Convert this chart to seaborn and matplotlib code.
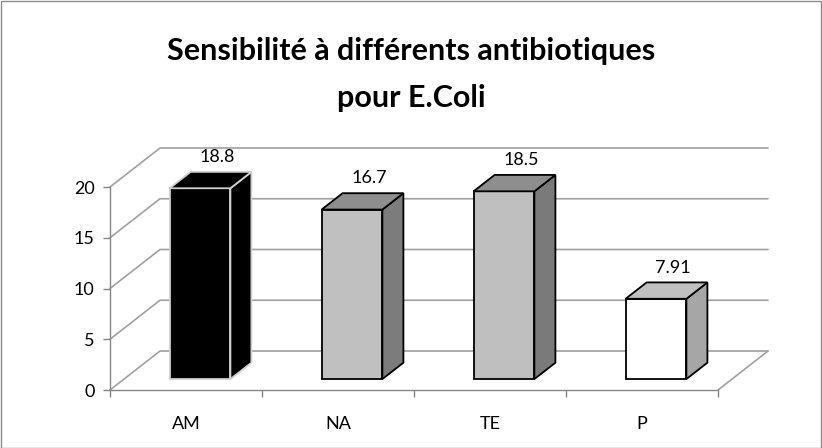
import numpy as np
import pandas as pd
import matplotlib
matplotlib.use('Agg')
import matplotlib.pyplot as plt
import seaborn as sns
from matplotlib.patches import Polygon, Rectangle
from matplotlib.lines import Line2D
from matplotlib.transforms import IdentityTransform, ScaledTranslation

antibiotics = ['AM', 'NA', 'TE', 'P']
sensitivity = [18.8, 16.7, 18.5, 7.91]
value_labels = ['18.8', '16.7', '18.5', '7.91']
front_colors = ['#000000', '#c0c0c0', '#bfbfbf', '#ffffff']
side_colors = ['#000000', '#7c7c7c', '#7a7a7a', '#a6a6a6']
top_colors = ['#000000', '#8e8e8e', '#8e8e8e', '#c0c0c0']
edge_colors = ['#d0d0d0', '#000000', '#000000', '#000000']
y_ticks = [0, 5, 10, 15, 20]

W, H = 822, 448
GRID = '#a0a0a0'
AXIS = '#868686'
# oblique depth vector of the full floor, in pixels
DX, DY = 50, 39
Z_FRONT, Z_BACK = 0.28, 0.70

sns.set_theme(style='white')
plt.rcParams['font.family'] = ['Lato', 'DejaVu Sans']

fig = plt.figure(figsize=(W / 100, H / 100), dpi=100)
ax = fig.add_axes([110 / W, 58 / H, 608 / W, 203 / H])

df = pd.DataFrame({'antibiotic': antibiotics, 'sensitivity': sensitivity})
sns.barplot(data=df, x='antibiotic', y='sensitivity', hue='antibiotic',
            palette=front_colors, width=0.4, saturation=1, legend=False, ax=ax)

ax.set_xlim(-0.5, 3.5)
ax.set_ylim(0, 20)
ax.set_yticks(y_ticks)
ax.set_xticks(range(len(antibiotics)))
ax.set_xticklabels(antibiotics)
ax.set_xticks(np.arange(-0.5, len(antibiotics), 1), minor=True)
ax.set_xlabel('')
ax.set_ylabel('')
ax.patch.set_alpha(0)

for side in ['top', 'right']:
    ax.spines[side].set_visible(False)
for side in ['left', 'bottom']:
    ax.spines[side].set_color(AXIS)
    ax.spines[side].set_linewidth(1)

ax.tick_params(axis='y', length=5, width=1, color=AXIS, labelcolor='black',
               labelsize=13, pad=6, left=True)
ax.tick_params(axis='x', which='major', length=0, labelsize=13, pad=19,
               labelcolor='black')
ax.tick_params(axis='x', which='minor', length=5, width=1, color=AXIS,
               bottom=True)

fig.canvas.draw()


def proj(x, y, z):
    px, py = ax.transData.transform((x, y))
    return (px + z * DX, py + z * DY)


ident = IdentityTransform()

# side wall, back wall and floor
for v in y_ticks:
    a = proj(-0.5, v, 0)
    b = proj(-0.5, v, 1)
    c = proj(3.5, v, 1)
    ax.add_artist(Line2D([a[0], b[0], c[0]], [a[1], b[1], c[1]], color=GRID,
                         lw=1.2, transform=ident, clip_on=False, zorder=0.5))
a = proj(3.5, 0, 0)
b = proj(3.5, 0, 1)
ax.add_artist(Line2D([a[0], b[0]], [a[1], b[1]], color=GRID, lw=1.2,
                     transform=ident, clip_on=False, zorder=0.5))

# bars: shift the front faces into depth, then add side and top faces
shift = ScaledTranslation(Z_FRONT * DX / 100, Z_FRONT * DY / 100,
                          fig.dpi_scale_trans)
for i, bar in enumerate(ax.patches[:len(antibiotics)]):
    x0 = bar.get_x()
    x1 = x0 + bar.get_width()
    h = bar.get_height()
    bar.set_transform(ax.transData + shift)
    bar.set_clip_on(False)
    bar.set_edgecolor(edge_colors[i])
    bar.set_linewidth(1.3)
    bar.set_zorder(3)

    side = [proj(x1, 0, Z_FRONT), proj(x1, 0, Z_BACK),
            proj(x1, h, Z_BACK), proj(x1, h, Z_FRONT)]
    top = [proj(x0, h, Z_FRONT), proj(x0, h, Z_BACK),
           proj(x1, h, Z_BACK), proj(x1, h, Z_FRONT)]
    for pts, col in [(side, side_colors[i]), (top, top_colors[i])]:
        ax.add_artist(Polygon(pts, closed=True, facecolor=col,
                              edgecolor=edge_colors[i], lw=1.3,
                              transform=ident, clip_on=False, zorder=3))

    lx, ly = proj(x0 + bar.get_width() / 2, h, 0.62)
    ax.text(lx, ly + 18, value_labels[i], transform=ident, ha='center',
            va='center', fontsize=13, color='black', zorder=4)

fig.text(0.5, 1 - 51 / H, 'Sensibilité à différents antibiotiques',
         ha='center', va='center', fontsize=22, fontweight='bold',
         color='black')
fig.text(0.5, 1 - 98 / H, 'pour E.Coli',
         ha='center', va='center', fontsize=22, fontweight='bold',
         color='black')

fig.patches.append(Rectangle((0.5 / W, 0.5 / H), 1 - 1.5 / W, 1 - 1.5 / H,
                             transform=fig.transFigure, fill=False,
                             edgecolor='#8c8c8c', lw=1))

fig.savefig('out.png', dpi=100)
